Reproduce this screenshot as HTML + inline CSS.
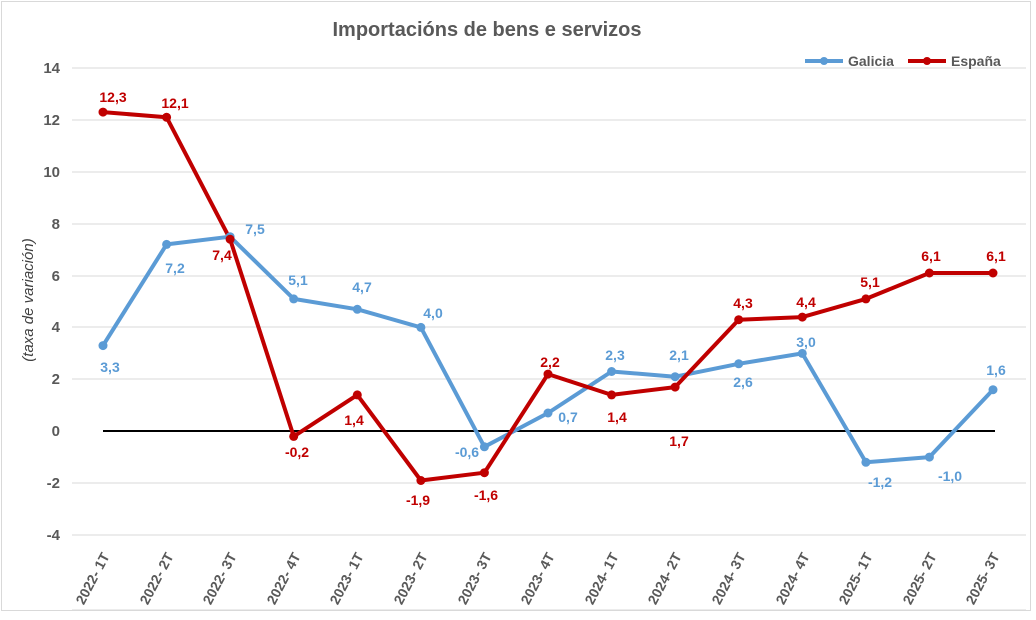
<!DOCTYPE html>
<html><head><meta charset="utf-8"><style>
body{margin:0;background:#fff}
svg{font-family:"Liberation Sans",sans-serif;display:block}
</style></head><body>
<svg width="1036" height="620" viewBox="0 0 1036 620">
<rect x="1.5" y="1.5" width="1029" height="609" fill="#fff" stroke="#d9d9d9"/>
<text x="487" y="36" text-anchor="middle" font-size="20" font-weight="bold" fill="#595959">Importacións  de bens e servizos</text>
<g stroke="#d9d9d9" stroke-width="1">
<line x1="72" x2="1026" y1="68" y2="68"/><line x1="72" x2="1026" y1="120" y2="120"/>
<line x1="72" x2="1026" y1="172" y2="172"/><line x1="72" x2="1026" y1="224" y2="224"/>
<line x1="72" x2="1026" y1="276" y2="276"/><line x1="72" x2="1026" y1="327" y2="327"/>
<line x1="72" x2="1026" y1="379" y2="379"/><line x1="72" x2="1026" y1="483" y2="483"/>
<line x1="72" x2="1026" y1="535" y2="535"/><line x1="72" x2="1026" y1="610" y2="610"/>
</g>
<line x1="103" x2="995" y1="431" y2="431" stroke="#000" stroke-width="2"/>
<g font-size="15" font-weight="bold" fill="#595959" text-anchor="end">
<text x="60" y="73">14</text><text x="60" y="125">12</text><text x="60" y="177">10</text>
<text x="60" y="229">8</text><text x="60" y="281">6</text><text x="60" y="332">4</text>
<text x="60" y="384">2</text><text x="60" y="436">0</text><text x="60" y="488">-2</text><text x="60" y="540">-4</text>
</g>
<text transform="translate(33,300) rotate(-90)" text-anchor="middle" font-size="15" font-style="italic" fill="#404040">(taxa de variación)</text>
<g font-size="14" font-weight="bold" fill="#595959" text-anchor="end">
<text transform="translate(110,556) rotate(-62)">2022- 1T</text>
<text transform="translate(174,556) rotate(-62)">2022- 2T</text>
<text transform="translate(237,556) rotate(-62)">2022- 3T</text>
<text transform="translate(301,556) rotate(-62)">2022- 4T</text>
<text transform="translate(364,556) rotate(-62)">2023- 1T</text>
<text transform="translate(428,556) rotate(-62)">2023- 2T</text>
<text transform="translate(492,556) rotate(-62)">2023- 3T</text>
<text transform="translate(555,556) rotate(-62)">2023- 4T</text>
<text transform="translate(619,556) rotate(-62)">2024- 1T</text>
<text transform="translate(682,556) rotate(-62)">2024- 2T</text>
<text transform="translate(746,556) rotate(-62)">2024- 3T</text>
<text transform="translate(810,556) rotate(-62)">2024- 4T</text>
<text transform="translate(873,556) rotate(-62)">2025- 1T</text>
<text transform="translate(937,556) rotate(-62)">2025- 2T</text>
<text transform="translate(1000,556) rotate(-62)">2025- 3T</text>
</g>
<g fill="none" stroke-width="4" stroke-linejoin="round">
<polyline stroke="#5b9bd5" points="103,345.6 166.6,244.4 230.1,236.7 293.7,298.9 357.3,309.3 420.9,327.4 484.4,446.8 548,413 611.6,371.5 675.1,376.7 738.7,363.8 802.3,353.4 865.9,462.3 929.4,457.1 993,389.7"/>
<polyline stroke="#c00000" points="103,112.1 166.6,117.3 230.1,239.2 293.7,436.4 357.3,394.9 420.9,480.5 484.4,472.7 548,374.1 611.6,394.9 675.1,387.1 738.7,319.7 802.3,317.1 865.9,298.9 929.4,273 993,273"/>
</g>
<g fill="#5b9bd5">
<circle cx="103" cy="345.6" r="4.5"/><circle cx="166.6" cy="244.4" r="4.5"/><circle cx="230.1" cy="236.7" r="4.5"/><circle cx="293.7" cy="298.9" r="4.5"/><circle cx="357.3" cy="309.3" r="4.5"/><circle cx="420.9" cy="327.4" r="4.5"/><circle cx="484.4" cy="446.8" r="4.5"/><circle cx="548" cy="413" r="4.5"/><circle cx="611.6" cy="371.5" r="4.5"/><circle cx="675.1" cy="376.7" r="4.5"/><circle cx="738.7" cy="363.8" r="4.5"/><circle cx="802.3" cy="353.4" r="4.5"/><circle cx="865.9" cy="462.3" r="4.5"/><circle cx="929.4" cy="457.1" r="4.5"/><circle cx="993" cy="389.7" r="4.5"/>
</g>
<g fill="#c00000">
<circle cx="103" cy="112.1" r="4.5"/><circle cx="166.6" cy="117.3" r="4.5"/><circle cx="230.1" cy="239.2" r="4.5"/><circle cx="293.7" cy="436.4" r="4.5"/><circle cx="357.3" cy="394.9" r="4.5"/><circle cx="420.9" cy="480.5" r="4.5"/><circle cx="484.4" cy="472.7" r="4.5"/><circle cx="548" cy="374.1" r="4.5"/><circle cx="611.6" cy="394.9" r="4.5"/><circle cx="675.1" cy="387.1" r="4.5"/><circle cx="738.7" cy="319.7" r="4.5"/><circle cx="802.3" cy="317.1" r="4.5"/><circle cx="865.9" cy="298.9" r="4.5"/><circle cx="929.4" cy="273" r="4.5"/><circle cx="993" cy="273" r="4.5"/>
</g>
<g font-size="14" font-weight="bold" fill="#5b9bd5" text-anchor="middle">
<text x="110" y="372">3,3</text><text x="175" y="273">7,2</text><text x="255" y="234">7,5</text>
<text x="298" y="285">5,1</text><text x="362" y="292">4,7</text><text x="433" y="318">4,0</text>
<text x="467" y="457">-0,6</text><text x="568" y="422">0,7</text><text x="615" y="360">2,3</text>
<text x="679" y="360">2,1</text><text x="743" y="387">2,6</text><text x="806" y="347">3,0</text>
<text x="880" y="487">-1,2</text><text x="950" y="481">-1,0</text><text x="996" y="375">1,6</text>
</g>
<g font-size="14" font-weight="bold" fill="#c00000" text-anchor="middle">
<text x="113" y="102">12,3</text><text x="175" y="108">12,1</text><text x="222" y="260">7,4</text>
<text x="297" y="457">-0,2</text><text x="354" y="425">1,4</text><text x="418" y="505">-1,9</text>
<text x="486" y="500">-1,6</text><text x="550" y="367">2,2</text><text x="617" y="422">1,4</text>
<text x="679" y="446">1,7</text><text x="743" y="308">4,3</text><text x="806" y="307">4,4</text>
<text x="870" y="287">5,1</text><text x="931" y="261">6,1</text><text x="996" y="261">6,1</text>
</g>
<line x1="805" x2="843" y1="61" y2="61" stroke="#5b9bd5" stroke-width="4"/><circle cx="824" cy="61" r="4" fill="#5b9bd5"/>
<text x="848" y="66" font-size="14" font-weight="bold" fill="#595959">Galicia</text>
<line x1="908" x2="946" y1="61" y2="61" stroke="#c00000" stroke-width="4"/><circle cx="927" cy="61" r="4" fill="#c00000"/>
<text x="951" y="66" font-size="14" font-weight="bold" fill="#595959">España</text>
</svg>
</body></html>
